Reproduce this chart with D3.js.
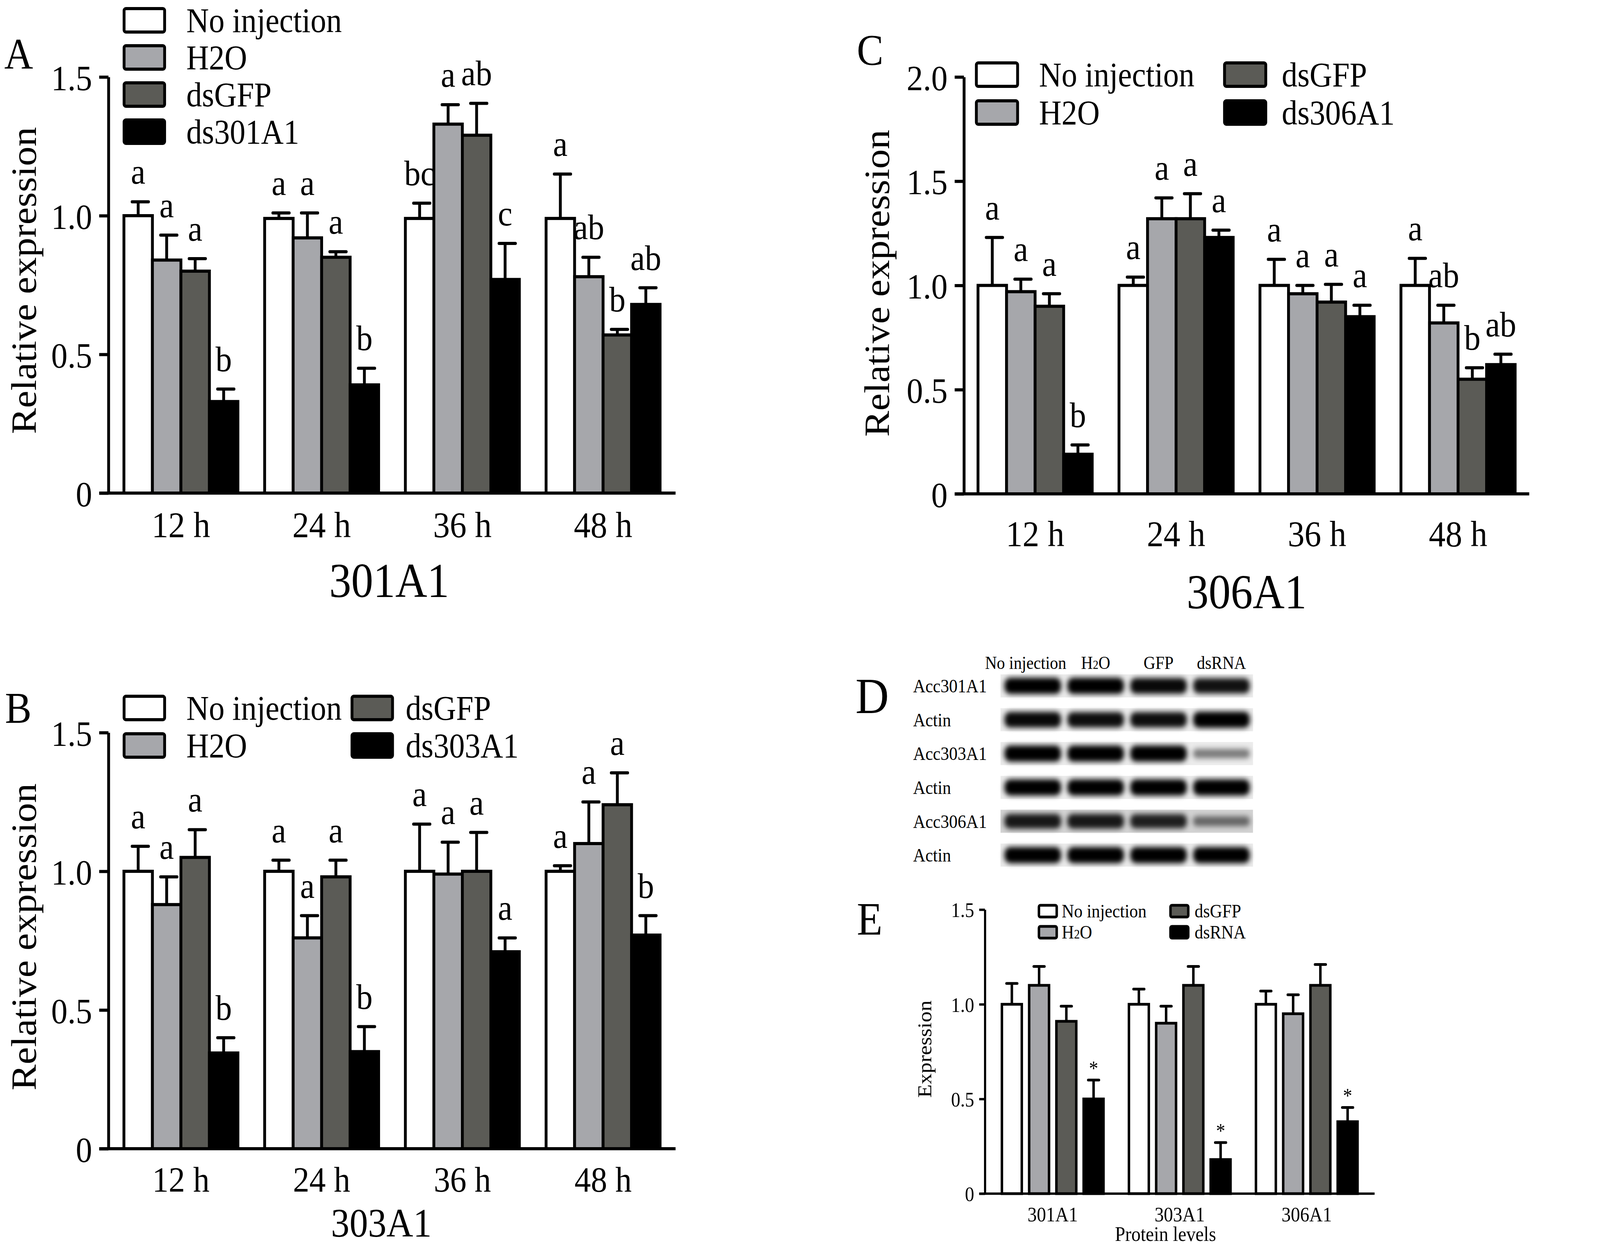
<!DOCTYPE html>
<html><head><meta charset="utf-8">
<script src="https://cdn.jsdelivr.net/npm/d3@7"></script>
<style>
html,body{margin:0;padding:0;background:#fff;width:100%;height:100%;overflow:hidden}
svg{display:block;width:100vw;height:100vh}
text{font-family:"Liberation Serif","Times New Roman",serif;fill:#000}
</style>
</head><body>
<svg id="c" viewBox="0 0 4500 3189" preserveAspectRatio="none"></svg>
<script>
// ---------------- DATA ----------------
const timepoints = ["12 h", "24 h", "36 h", "48 h"];
const fills = ["#ffffff", "#a6a7ab", "#5b5b56", "#000000"];

// Panel A: 301A1 (rows = time points, cols = No injection, H2O, dsGFP, ds301A1)
const legendA = ["No injection", "H2O", "dsGFP", "ds301A1"];
const valuesA = [[1.00, 0.84, 0.80, 0.33], [0.99, 0.92, 0.85, 0.39], [0.99, 1.33, 1.29, 0.77], [0.99, 0.78, 0.57, 0.68]];
const errorsA = [[0.05, 0.09, 0.045, 0.045], [0.02, 0.09, 0.02, 0.06], [0.055, 0.07, 0.115, 0.13], [0.16, 0.07, 0.02, 0.06]];
const lettersA = [["a", "a", "a", "b"], ["a", "a", "a", "b"], ["bc", "a", "ab", "c"], ["a", "ab", "b", "ab"]];

// Panel B: 303A1
const legendB = ["No injection", "H2O", "dsGFP", "ds303A1"];
const valuesB = [[1.00, 0.88, 1.05, 0.345], [1.00, 0.76, 0.98, 0.35], [1.00, 0.99, 1.00, 0.71], [1.00, 1.10, 1.24, 0.77]];
const errorsB = [[0.09, 0.10, 0.10, 0.055], [0.04, 0.08, 0.06, 0.09], [0.17, 0.115, 0.14, 0.05], [0.02, 0.15, 0.115, 0.07]];
const lettersB = [["a", "a", "a", "b"], ["a", "a", "a", "b"], ["a", "a", "a", "a"], ["a", "a", "a", "b"]];

// Panel C: 306A1
const legendC = ["No injection", "H2O", "dsGFP", "ds306A1"];
const valuesC = [[1.00, 0.97, 0.90, 0.19], [1.00, 1.32, 1.32, 1.23], [1.00, 0.96, 0.92, 0.85], [1.00, 0.82, 0.55, 0.62]];
const errorsC = [[0.23, 0.06, 0.06, 0.045], [0.04, 0.10, 0.12, 0.035], [0.125, 0.04, 0.085, 0.055], [0.13, 0.085, 0.055, 0.05]];
const lettersC = [["a", "a", "a", "b"], ["a", "a", "a", "a"], ["a", "a", "a", "a"], ["a", "ab", "b", "ab"]];

// Panel D: western blot (band intensity per lane)
const blotLanes = ["No injection", "H2O", "GFP", "dsRNA"];
const blotRows = ["Acc301A1", "Actin", "Acc303A1", "Actin", "Acc306A1", "Actin"];
const blotIntensity = [[1, 1, 0.95, 0.9], [0.95, 0.92, 0.92, 1], [1, 1, 1, 0.3], [1, 1, 1, 1], [0.85, 0.85, 0.8, 0.35], [1, 1, 1, 1]];

// Panel E: protein levels
const proteins = ["301A1", "303A1", "306A1"];
const legendE = ["No injection", "H2O", "dsGFP", "dsRNA"];
const valuesE = [[1.00, 1.10, 0.91, 0.50], [1.00, 0.90, 1.10, 0.18], [1.00, 0.95, 1.10, 0.38]];
const errorsE = [[0.11, 0.10, 0.08, 0.10], [0.08, 0.09, 0.10, 0.09], [0.07, 0.10, 0.11, 0.075]];
const marksE = [["", "", "", "*"], ["", "", "", "*"], ["", "", "", "*"]];

const yTicks15 = [0, 0.5, 1.0, 1.5];
const yTicks20 = [0, 0.5, 1.0, 1.5, 2.0];

// ---------------- DRAW ----------------
const svg = d3.select("#c");
svg.append("rect").attr("width", 4500).attr("height", 3189).attr("fill", "#fff");
const fmt = d => d === 0 ? "0" : d3.format(".1f")(d);

function labelText(sel, s, small) {
  if (small && s === "H2O") {
    sel.append("tspan").text("H");
    sel.append("tspan").attr("font-size", "0.68em").text("2");
    sel.append("tspan").text("O");
  } else sel.text(s);
}

function drawPanel(c) {
  const g = svg.append("g");
  const y = d3.scaleLinear().domain([0, c.yMax]).range([c.yBottom, c.yTop]);
  const x = d3.scaleBand().domain(c.groups).range([c.xLeft, c.xRight])
    .paddingInner(c.padInner).paddingOuter(c.padOuter);
  const xs = d3.scaleBand().domain(d3.range(4)).range([0, x.bandwidth()]).paddingInner(c.barGap);

  c.groups.forEach((grp, gi) => {
    const gg = g.append("g").attr("transform", `translate(${x(grp)},0)`);
    gg.selectAll("rect.bar").data(c.values[gi]).join("rect").attr("class", "bar")
      .attr("x", (d, i) => xs(i)).attr("y", d => y(d))
      .attr("width", xs.bandwidth()).attr("height", d => y(0) - y(d))
      .attr("fill", (d, i) => fills[i]).attr("stroke", "#000").attr("stroke-width", c.sw);
    const eg = gg.selectAll("g.err").data(c.values[gi]).join("g").attr("class", "err");
    eg.append("line")
      .attr("x1", (d, i) => xs(i) + xs.bandwidth() / 2).attr("x2", (d, i) => xs(i) + xs.bandwidth() / 2)
      .attr("y1", d => y(d)).attr("y2", (d, i) => y(d + c.errors[gi][i]))
      .attr("stroke", "#000").attr("stroke-width", c.sw);
    eg.append("line")
      .attr("x1", (d, i) => xs(i) + xs.bandwidth() / 2 - c.capW / 2 + c.capShift)
      .attr("x2", (d, i) => xs(i) + xs.bandwidth() / 2 + c.capW / 2 + c.capShift)
      .attr("y1", (d, i) => y(d + c.errors[gi][i])).attr("y2", (d, i) => y(d + c.errors[gi][i]))
      .attr("stroke", "#000").attr("stroke-width", c.sw).attr("stroke-linecap", "round");
    gg.selectAll("text.sig").data(c.values[gi]).join("text").attr("class", "sig")
      .attr("x", (d, i) => xs(i) + xs.bandwidth() / 2)
      .attr("y", (d, i) => y(d + c.errors[gi][i]) - c.sigGap)
      .attr("text-anchor", "middle").attr("font-size", c.sigFs)
      .text((d, i) => c.sig[gi][i]);
  });

  const ya = g.append("g").attr("transform", `translate(${c.xLeft},0)`)
    .call(d3.axisLeft(y).tickValues(c.yTicks).tickFormat(fmt).tickSize(c.tickLen).tickSizeOuter(0).tickPadding(c.tickPad));
  ya.select(".domain").attr("stroke-width", c.axW).attr("stroke", "#000");
  ya.selectAll(".tick line").attr("stroke-width", c.axW).attr("stroke", "#000");
  ya.selectAll(".tick text").attr("font-size", c.tickFs).attr("font-family", null).attr("dy", "0.36em");
  g.append("line").attr("x1", c.xLeft - c.tickLen).attr("x2", c.xRight)
    .attr("y1", y(0)).attr("y2", y(0)).attr("stroke", "#000").attr("stroke-width", c.axW);
  g.selectAll("text.xl").data(c.groups).join("text").attr("class", "xl")
    .attr("x", d => x(d) + x.bandwidth() / 2).attr("y", c.xLabelY)
    .attr("text-anchor", "middle").attr("font-size", c.xFs).text(d => d);
  if (c.xTitle) g.append("text").attr("x", (c.xLeft + c.xRight) / 2 + c.xTitleShift).attr("y", c.xTitleY)
    .attr("text-anchor", "middle").attr("font-size", c.xTitleFs).text(c.xTitle);
  g.append("text").attr("transform", `translate(${c.yTitleX},${c.yTitleY}) rotate(-90)`)
    .attr("text-anchor", "middle").attr("dy", "0.35em").attr("font-size", c.yTitleFs).text(c.yTitle);
  g.append("text").attr("x", c.letterX).attr("y", c.letterY).attr("font-size", c.letterFs).text(c.letter);
  const L = c.legend;
  c.legendLabels.forEach((lab, i) => {
    const [col, row] = L.layout[i];
    const cy = L.y0 + row * L.dy;
    g.append("rect").attr("x", L.boxX[col]).attr("y", cy - L.boxH / 2).attr("width", L.boxW).attr("height", L.boxH)
      .attr("rx", L.rx).attr("fill", fills[i]).attr("stroke", "#000").attr("stroke-width", L.sw);
    const t = g.append("text").attr("x", L.textX[col]).attr("y", cy).attr("dy", "0.34em").attr("font-size", L.fs);
    labelText(t, lab, L.smallSub);
  });
}

// Panel A
drawPanel({
  groups: timepoints, values: valuesA, errors: errorsA, sig: lettersA, yMax: 1.5, yTicks: yTicks15,
  xLeft: 305, xRight: 1900, yBottom: 1262, yTop: 197, padInner: 0.19, padOuter: 0.11, barGap: 0,
  sw: 8, axW: 8, capW: 46, capShift: 6, sigGap: 46, sigFs: 92, tickLen: 26, tickPad: 20, tickFs: 92,
  xLabelY: 1375, xFs: 94, xTitle: "301A1", xTitleY: 1528, xTitleFs: 124, xTitleShift: -8,
  yTitle: "Relative expression", yTitleX: 66, yTitleY: 718, yTitleFs: 100,
  letter: "A", letterX: 12, letterY: 176, letterFs: 112,
  legendLabels: legendA,
  legend: { layout: [[0, 0], [0, 1], [0, 2], [0, 3]], boxX: [349], textX: [524], y0: 52, dy: 95, boxW: 114, boxH: 60, rx: 5, sw: 8, fs: 88 }
});

// Panel B
drawPanel({
  groups: timepoints, values: valuesB, errors: errorsB, sig: lettersB, yMax: 1.5, yTicks: yTicks15,
  xLeft: 305, xRight: 1900, yBottom: 2940, yTop: 1875, padInner: 0.19, padOuter: 0.11, barGap: 0,
  sw: 8, axW: 8, capW: 46, capShift: 6, sigGap: 46, sigFs: 92, tickLen: 26, tickPad: 20, tickFs: 92,
  xLabelY: 3050, xFs: 92, xTitle: "303A1", xTitleY: 3165, xTitleFs: 104, xTitleShift: -30,
  yTitle: "Relative expression", yTitleX: 66, yTitleY: 2398, yTitleFs: 100,
  letter: "B", letterX: 14, letterY: 1850, letterFs: 112,
  legendLabels: legendB,
  legend: { layout: [[0, 0], [0, 1], [1, 0], [1, 1]], boxX: [349, 990], textX: [524, 1141], y0: 1812, dy: 96, boxW: 114, boxH: 60, rx: 5, sw: 8, fs: 88 }
});

// Panel C
drawPanel({
  groups: timepoints, values: valuesC, errors: errorsC, sig: lettersC, yMax: 2.0, yTicks: yTicks20,
  xLeft: 2711, xRight: 4301, yBottom: 1264, yTop: 197, padInner: 0.19, padOuter: 0.1, barGap: 0,
  sw: 8, axW: 8, capW: 46, capShift: 6, sigGap: 46, sigFs: 92, tickLen: 26, tickPad: 20, tickFs: 92,
  xLabelY: 1398, xFs: 94, xTitle: "306A1", xTitleY: 1557, xTitleFs: 124, xTitleShift: 0,
  yTitle: "Relative expression", yTitleX: 2465, yTitleY: 725, yTitleFs: 100,
  letter: "C", letterX: 2410, letterY: 166, letterFs: 112,
  legendLabels: legendC,
  legend: { layout: [[0, 0], [0, 1], [1, 0], [1, 1]], boxX: [2746, 3444], textX: [2922, 3605], y0: 191, dy: 97, boxW: 116, boxH: 60, rx: 5, sw: 8, fs: 88 }
});

// Panel E
drawPanel({
  groups: proteins, values: valuesE, errors: errorsE, sig: marksE, yMax: 1.5, yTicks: yTicks15,
  xLeft: 2770, xRight: 3866, yBottom: 3055, yTop: 2328, padInner: 0.2, padOuter: 0.134, barGap: 0.27,
  sw: 7, axW: 6, capW: 30, capShift: 0, sigGap: 12, sigFs: 52, tickLen: 16, tickPad: 14, tickFs: 52,
  xLabelY: 3126, xFs: 52, xTitle: "Protein levels", xTitleY: 3176, xTitleFs: 52, xTitleShift: -40,
  yTitle: "Expression", yTitleX: 2600, yTitleY: 2685, yTitleFs: 56,
  letter: "E", letterX: 2410, letterY: 2392, letterFs: 118,
  legendLabels: legendE,
  legend: { layout: [[0, 0], [0, 1], [1, 0], [1, 1]], boxX: [2922, 3292], textX: [2986, 3360], y0: 2332, dy: 54, boxW: 50, boxH: 30, rx: 4, sw: 7, fs: 48, smallSub: true }
});

// Panel D: western blot
(function () {
  const g = svg.append("g");
  const defs = svg.append("defs");
  defs.append("filter").attr("id", "blur").attr("x", "-20%").attr("y", "-50%").attr("width", "140%").attr("height", "200%")
    .append("feGaussianBlur").attr("stdDeviation", 7);
  g.append("text").attr("x", 2406).attr("y", 1825).attr("font-size", 130).text("D");
  const laneX = d3.scaleBand().domain(blotLanes).range([2818, 3522]).paddingInner(0.1).paddingOuter(0.04);
  const rowY = d3.scaleBand().domain(d3.range(blotRows.length)).range([1726, 2218]).paddingInner(0.32).paddingOuter(0);
  g.selectAll("text.hd").data(blotLanes).join("text").attr("class", "hd")
    .attr("x", d => laneX(d) + laneX.bandwidth() / 2 + (d === "No injection" ? -20 : 0))
    .attr("y", 1712).attr("text-anchor", "middle").attr("font-size", 46)
    .each(function (d) { labelText(d3.select(this), d, true); });
  blotRows.forEach((r, ri) => {
    const y0 = rowY(ri), h = rowY.bandwidth();
    g.append("rect").attr("x", 2814).attr("y", y0).attr("width", 710).attr("height", h)
      .attr("fill", ri === 4 ? "#d2d2d2" : "#ebebeb");
    g.append("text").attr("x", 2568).attr("y", y0 + h / 2).attr("dy", "0.35em").attr("font-size", 48).text(r);
    blotLanes.forEach((ln, li) => {
      const k = blotIntensity[ri][li];
      const bh = h * (0.28 + 0.42 * k);
      g.append("rect").attr("x", laneX(ln)).attr("y", y0 + h / 2 - bh / 2)
        .attr("width", laneX.bandwidth()).attr("height", bh).attr("rx", bh / 2.5)
        .attr("fill", "#000").attr("opacity", 0.25 + 0.75 * k)
        .attr("filter", "url(#blur)");
    });
  });
})();
</script>
</body></html>
